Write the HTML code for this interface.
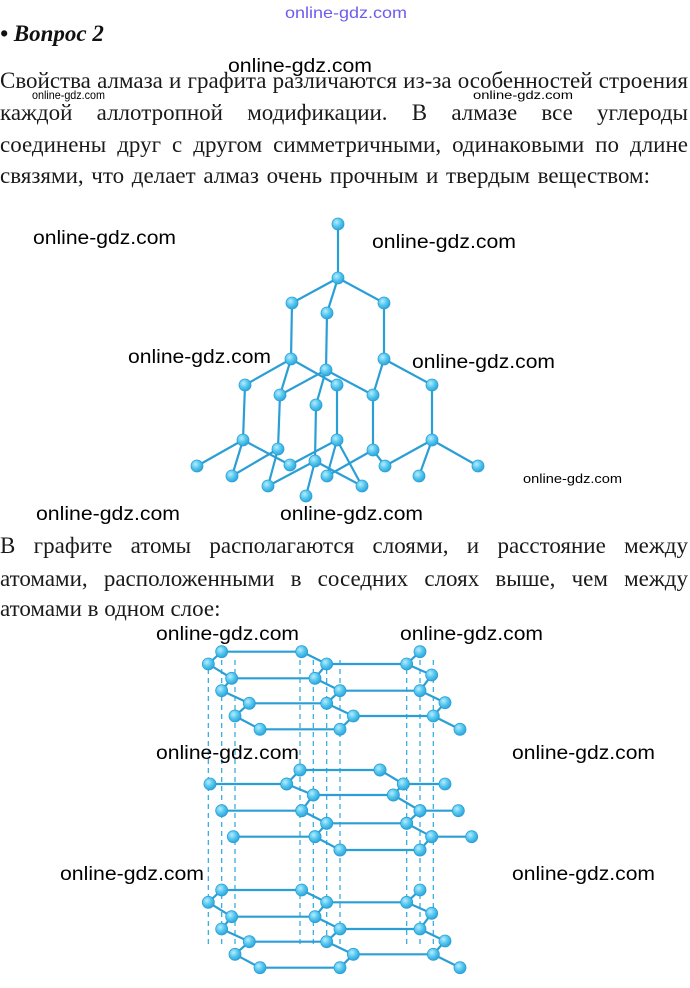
<!DOCTYPE html>
<html><head><meta charset="utf-8"><style>
html,body{margin:0;padding:0;background:#fff;width:690px;height:988px;overflow:hidden}
svg{display:block}
.t{font-family:"Liberation Serif",serif;font-size:23px;fill:#1a1a1a}
.w{font-family:"Liberation Sans",sans-serif;font-size:19px;fill:#000}
.ws{font-family:"Liberation Sans",sans-serif;font-size:12px;fill:#000}
</style></head><body>
<svg id="s" width="690" height="988" viewBox="0 0 690 988" xmlns="http://www.w3.org/2000/svg">
<defs><radialGradient id="g" cx="0.38" cy="0.35" r="0.7"><stop offset="0" stop-color="#b8ecff"/><stop offset="0.5" stop-color="#55c8ef"/><stop offset="1" stop-color="#2a9fd6"/></radialGradient></defs>
<text x="285" y="18" font-family="Liberation Sans,sans-serif" font-size="16" fill="#6b5cf0" textLength="122" lengthAdjust="spacingAndGlyphs">online-gdz.com</text>
<text x="0" y="41" font-family="Liberation Serif,serif" font-size="23" font-weight="bold" font-style="italic" fill="#111">• Вопрос 2</text>
<text class="t j" data-w="688" x="0" y="88">Свойства алмаза и графита различаются из-за особенностей строения</text>
<text class="t j" data-w="688" x="0" y="120">каждой аллотропной модификации. В алмазе все углероды</text>
<text class="t j" data-w="688" x="0" y="152">соединены друг с другом симметричными, одинаковыми по длине</text>
<text class="t j" data-w="650" x="0" y="183">связями, что делает алмаз очень прочным и твердым веществом:</text>
<text class="t j" data-w="688" x="0" y="553">В графите атомы располагаются слоями, и расстояние между</text>
<text class="t j" data-w="688" x="0" y="586">атомами, расположенными в соседних слоях выше, чем между</text>
<text class="t" x="0" y="616">атомами в одном слое:</text>
<g id="dia" stroke="#2a9fd6" stroke-width="2.2" fill="none"></g>
<g id="gra" stroke="#2a9fd6" stroke-width="2.2" fill="none"></g>
<g id="atoms"></g>
<text class="w" x="228" y="72" textLength="144" lengthAdjust="spacingAndGlyphs">online-gdz.com</text>
<text class="ws" x="32" y="99" textLength="73" lengthAdjust="spacingAndGlyphs">online-gdz.com</text>
<text class="ws" x="473" y="99" textLength="100" lengthAdjust="spacingAndGlyphs">online-gdz.com</text>
<text class="w" x="33" y="244" textLength="143" lengthAdjust="spacingAndGlyphs">online-gdz.com</text>
<text class="w" x="372" y="248" textLength="144" lengthAdjust="spacingAndGlyphs">online-gdz.com</text>
<text class="w" x="128" y="363" textLength="143" lengthAdjust="spacingAndGlyphs">online-gdz.com</text>
<text class="w" x="412" y="368" textLength="143" lengthAdjust="spacingAndGlyphs">online-gdz.com</text>
<text class="ws" x="523" y="483" textLength="99" lengthAdjust="spacingAndGlyphs" style="font-size:13px">online-gdz.com</text>
<text class="w" x="36" y="520" textLength="144" lengthAdjust="spacingAndGlyphs">online-gdz.com</text>
<text class="w" x="280" y="520" textLength="143" lengthAdjust="spacingAndGlyphs">online-gdz.com</text>
<text class="w" x="156" y="640" textLength="143" lengthAdjust="spacingAndGlyphs">online-gdz.com</text>
<text class="w" x="400" y="640" textLength="143" lengthAdjust="spacingAndGlyphs">online-gdz.com</text>
<text class="w" x="156" y="759" textLength="143" lengthAdjust="spacingAndGlyphs">online-gdz.com</text>
<text class="w" x="512" y="759" textLength="143" lengthAdjust="spacingAndGlyphs">online-gdz.com</text>
<text class="w" x="60" y="880" textLength="144" lengthAdjust="spacingAndGlyphs">online-gdz.com</text>
<text class="w" x="512" y="880" textLength="143" lengthAdjust="spacingAndGlyphs">online-gdz.com</text>
</svg>
<script>
var NS="http://www.w3.org/2000/svg";
Array.prototype.forEach.call(document.querySelectorAll('text.j'),function(t){
  var W=+t.getAttribute('data-w');var len=t.getComputedTextLength();
  var n=(t.textContent.match(/ /g)||[]).length;
  var ws=n?(W-len)/n:0;
  if(ws>=0 && n){t.setAttribute('word-spacing',ws);}
  else{t.setAttribute('textLength',W);t.setAttribute('lengthAdjust','spacingAndGlyphs');}
});
function el(p,n,a){var e=document.createElementNS(NS,n);for(var k in a)e.setAttribute(k,a[k]);p.appendChild(e);return e;}
var atoms=document.getElementById('atoms');
function atom(x,y){el(atoms,'circle',{cx:x,cy:y,r:6,fill:'url(#g)',stroke:'#2a9fd6','stroke-width':0.8});}
var P={top:[338,224],A:[338,278],B:[292,303],C:[384,303],D:[327,313],E:[291,359],F:[384,359],G:[326,370],
H:[245,385],I:[280,395],J:[337,385],K:[373,395],L:[432,385],M:[316,405],
N:[243,440],O:[278,449],Pp:[337,440],Q:[373,450],R:[432,440],
S:[197,466],T:[232,476],U:[290,465],V:[315,461],W:[268,486],X:[306,496],Y:[327,476],Z:[362,486],AA:[385,466],AB:[419,476],AC:[478,466]};
var B=[["top","A"],["A","B"],["A","C"],["A","D"],["B","E"],["C","F"],["D","G"],["E","H"],["E","I"],["E","J"],["F","K"],["F","L"],["G","I"],["G","K"],["G","M"],
["H","N"],["I","O"],["J","Pp"],["K","Q"],["L","R"],["M","V"],["N","S"],["N","T"],["N","U"],["O","T"],["O","W"],["Pp","U"],["Pp","Y"],["Pp","Z"],["Q","Y"],["Q","AA"],["R","AA"],["R","AB"],["R","AC"],["V","X"],["V","W"],["V","Z"]];
var dg=document.getElementById('dia');
B.forEach(function(b){var a=P[b[0]],c=P[b[1]];el(dg,'line',{x1:a[0],y1:a[1],x2:c[0],y2:c[1]});});
for(var k in P)atom(P[k][0],P[k][1]);
var gg=document.getElementById('gra');
function T(x,y,dy){return [190+x/3,640+(y+dy)/3];}
[55,95,135,330,370,410,450,650,690,730].forEach(function(x){el(gg,'line',{x1:190+x/3,y1:660,x2:190+x/3,y2:945,'stroke-width':1.3,'stroke-dasharray':'5,4',stroke:'#3aaee0'});});
function poly(pts,dy){var q=pts.map(function(p){return T(p[0],p[1],dy)});for(var i=0;i<q.length-1;i++)el(gg,'line',{x1:q[i][0],y1:q[i][1],x2:q[i+1][0],y2:q[i+1][1]});}
function seg(a,b,dy){poly([a,b],dy);}
var topZ=[[[95,35],[55,72],[125,115],[95,152],[178,190],[135,228],[210,268]],[[335,35],[410,72],[375,115],[450,152],[410,190],[490,228],[450,268]],[[690,35],[650,72],[725,105],[690,152],[765,188],[730,228],[810,268]]];
var topH=[[[95,35],[335,35]],[[410,72],[650,72]],[[125,115],[375,115]],[[450,152],[690,152]],[[178,190],[410,190]],[[490,228],[730,228]],[[210,268],[450,268]]];
var atomsList=[];
[0,715].forEach(function(dy){topZ.forEach(function(z){poly(z,dy);z.forEach(function(p){atomsList.push(T(p[0],p[1],dy));});});topH.forEach(function(h){seg(h[0],h[1],dy);});});
var midZ=[[[330,390],[290,432],[370,465],[335,512],[410,550],[375,590],[450,630]],[[570,390],[640,432],[610,465],[690,512],[650,550],[725,590],[690,630]]];
var midH=[[[330,390],[570,390]],[[60,432],[290,432]],[[370,465],[610,465]],[[95,512],[335,512]],[[410,550],[650,550]],[[130,590],[375,590]],[[450,630],[690,630]],[[640,432],[765,432]],[[690,512],[805,512]],[[725,590],[845,590]]];
midZ.forEach(function(z){poly(z,0);z.forEach(function(p){atomsList.push(T(p[0],p[1],0));});});
midH.forEach(function(h){seg(h[0],h[1],0);[h[0],h[1]].forEach(function(p){atomsList.push(T(p[0],p[1],0));});});
atomsList.forEach(function(p){atom(p[0],p[1]);});
</script>
</body></html>
